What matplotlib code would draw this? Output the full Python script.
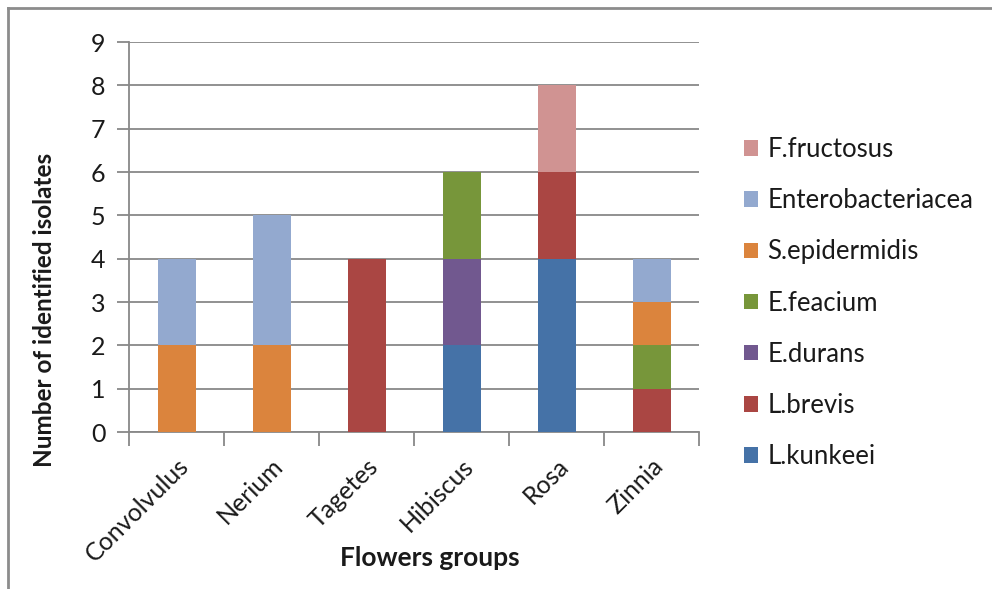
import numpy as np
import matplotlib
matplotlib.use("Agg")
import matplotlib.pyplot as plt
from matplotlib.lines import Line2D
from matplotlib.patches import Patch

plt.rcParams['font.family'] = ['Lato', 'DejaVu Sans']

flowers = ["Convolvulus", "Nerium", "Tagetes", "Hibiscus", "Rosa", "Zinnia"]

# stacked from bottom to top
l_kunkeei = [0, 0, 0, 2, 4, 0]
l_brevis = [0, 0, 4, 0, 2, 1]
e_durans = [0, 0, 0, 2, 0, 0]
e_feacium = [0, 0, 0, 2, 0, 1]
s_epidermidis = [2, 2, 0, 0, 0, 1]
enterobacteriacea = [2, 3, 0, 0, 0, 1]
f_fructosus = [0, 0, 0, 0, 2, 0]

series = [
    ("L.kunkeei", l_kunkeei, "#4572A7"),
    ("L.brevis", l_brevis, "#AA4643"),
    ("E.durans", e_durans, "#71588F"),
    ("E.feacium", e_feacium, "#77963A"),
    ("S.epidermidis", s_epidermidis, "#DB843D"),
    ("Enterobacteriacea", enterobacteriacea, "#93A9CF"),
    ("F.fructosus", f_fructosus, "#D09392"),
]

W, H = 992, 589
fig = plt.figure(figsize=(W / 100, H / 100), dpi=100)
ax = fig.add_axes([129 / W, 1 - 432 / H, 570 / W, 390 / H])

x = np.arange(len(flowers))
bottom = np.zeros(len(flowers))
handles = []
for name, vals, col in series:
    ax.bar(x, vals, 0.4, bottom=bottom, color=col, zorder=3)
    bottom += np.array(vals)
    handles.append(Patch(facecolor=col, label=name))

grid_col = "#888888"
txt_col = "#1a1a1a"
ax.set_ylim(0, 9)
ax.set_xlim(-0.5, len(flowers) - 0.5)
ax.set_yticks(range(10))
ax.yaxis.grid(True, color=grid_col, linewidth=1.3, zorder=0)
ax.set_axisbelow(True)
for s in ["top", "right"]:
    ax.spines[s].set_visible(False)
for s in ["left", "bottom"]:
    ax.spines[s].set_color(grid_col)
    ax.spines[s].set_linewidth(1.3)
ax.tick_params(axis="y", length=9, width=1.3, color=grid_col, labelsize=18, pad=8, labelcolor=txt_col)

ax.set_xticks(x)
ax.set_xticklabels(flowers, rotation=45, ha="right", rotation_mode="anchor", fontsize=18, color=txt_col)
ax.set_xticks(np.arange(-0.5, len(flowers)), minor=True)
ax.tick_params(axis="x", which="major", length=0, pad=16)
ax.tick_params(axis="x", which="minor", length=10, width=1.3, color=grid_col)

fig.text(430 / W, 1 - 558 / H, "Flowers groups", ha="center", va="center",
         fontsize=19, fontweight="bold", color=txt_col)
fig.text(45 / W, 1 - 310 / H, "Number of identified isolates", ha="center", va="center",
         rotation=90, fontsize=17.5, fontweight="bold", color=txt_col)

leg = fig.legend(handles=handles[::-1], loc="upper left",
                 bbox_to_anchor=(744 / W, 1 - 137 / H), frameon=False,
                 fontsize=18.5, handlelength=0.55, handleheight=0.55,
                 handletextpad=0.35, labelspacing=1.02, borderpad=0, borderaxespad=0)
for t in leg.get_texts():
    t.set_color(txt_col)

# chart-area border (left and top edges visible)
fig.add_artist(Line2D([8 / W, 8 / W], [0, 1 - 8 / H], color="#8c8c8c", linewidth=2))
fig.add_artist(Line2D([8 / W, 1], [1 - 8 / H, 1 - 8 / H], color="#8c8c8c", linewidth=2))

fig.savefig("out.png", dpi=100)
